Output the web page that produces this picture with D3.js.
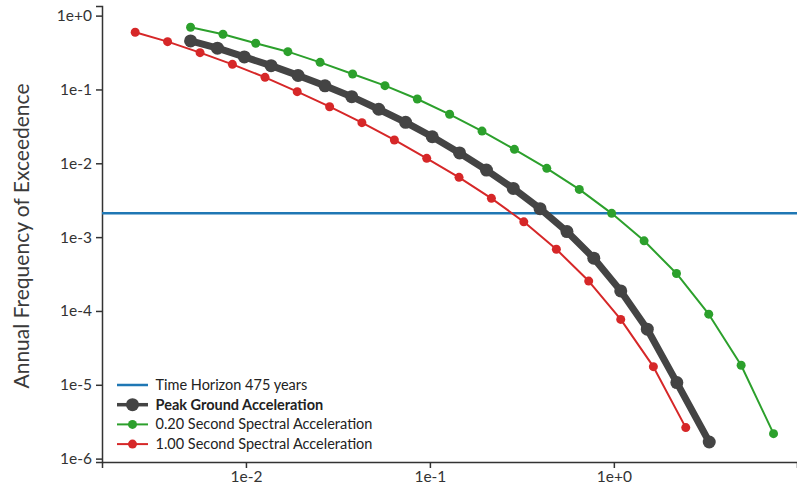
<!DOCTYPE html>
<html>
<head>
<meta charset="utf-8">
<script src="https://cdn.jsdelivr.net/npm/d3@7"></script>
<style>
  html, body { margin: 0; padding: 0; background: #fff; }
  svg { display: block; font-family: "Source Sans Pro", Lato, "Noto Sans", sans-serif; }
</style>
</head>
<body>
<svg id="chart" width="797" height="493"></svg>
<script>
// Ground-motion levels (g) for each spectral period
const pgaX = [0.005, 0.007, 0.0098, 0.0137, 0.0192, 0.0269, 0.0376, 0.0527, 0.0738, 0.103,
              0.145, 0.203, 0.284, 0.397, 0.556, 0.778, 1.09, 1.52, 2.2, 3.3];
const sa02X = [0.005, 0.0075, 0.0113, 0.0169, 0.0253, 0.038, 0.057, 0.0854, 0.128, 0.192,
               0.288, 0.432, 0.649, 0.973, 1.46, 2.19, 3.28, 4.92, 7.38];
const sa10X = [0.0025, 0.00375, 0.00563, 0.00844, 0.0127, 0.019, 0.0285, 0.0427, 0.0641, 0.0961,
               0.144, 0.216, 0.324, 0.487, 0.73, 1.09, 1.64, 2.46];

// Annual frequency of exceedance at each level
const pgaY = [0.454, 0.362, 0.276, 0.210, 0.155, 0.112, 0.0798, 0.0539, 0.0359, 0.0229,
              0.0138, 0.0081, 0.00457, 0.00243, 0.00119, 5.19e-4, 1.87e-4, 5.66e-5, 1.07e-5, 1.68e-6];
const sa02Y = [0.696, 0.560, 0.422, 0.325, 0.233, 0.162, 0.1125, 0.0743, 0.0461, 0.0273,
               0.01545, 0.00854, 0.00443, 0.0021, 8.91e-4, 3.22e-4, 9.04e-5, 1.84e-5, 2.18e-6];
const sa10Y = [0.596, 0.444, 0.315, 0.219, 0.146, 0.0933, 0.0584, 0.0355, 0.0207, 0.01167,
               0.00645, 0.00335, 0.00161, 6.84e-4, 2.54e-4, 7.69e-5, 1.76e-5, 2.63e-6];

const returnPeriod = 475;
const xTicks = [1e-2, 1e-1, 1e0];
const yTicks = [1e0, 1e-1, 1e-2, 1e-3, 1e-4, 1e-5, 1e-6];
const yTitle = "Annual Frequency of Exceedence";

const series = [
  { name: "Peak Ground Acceleration", xs: pgaX, ys: pgaY, color: "#444444", width: 7, r: 6.5, bold: true },
  { name: "0.20 Second Spectral Acceleration", xs: sa02X, ys: sa02Y, color: "#2ca02c", width: 2, r: 4.5, bold: false },
  { name: "1.00 Second Spectral Acceleration", xs: sa10X, ys: sa10Y, color: "#d62728", width: 2, r: 4.5, bold: false }
];

const svg = d3.select("#chart");
const plotLeft = 102, plotRight = 797, plotTop = 6, plotBottom = 462;

const x = d3.scaleLog().domain([0.00165, 9.9]).range([plotLeft, plotRight]);
const y = d3.scaleLog().domain([9e-7, 1.35]).range([plotBottom, plotTop]);

const fmt = d3.format(".0e");
const fontStack = "\"Source Sans Pro\", Lato, \"Noto Sans\", sans-serif";

// Axes
const gx = svg.append("g").attr("transform", `translate(0,${plotBottom})`)
  .call(d3.axisBottom(x).tickValues(xTicks).tickFormat(fmt).tickSizeOuter(0).tickSize(6).tickPadding(3));
const gy = svg.append("g").attr("transform", `translate(${plotLeft},0)`)
  .call(d3.axisLeft(y).tickValues(yTicks).tickFormat(fmt).tickSizeOuter(0).tickSize(6).tickPadding(4));
[gx, gy].forEach(g => {
  g.select(".domain").attr("stroke", "#333").attr("stroke-width", 1.5);
  g.selectAll(".tick line").attr("stroke", "#333").attr("stroke-width", 1.5);
  g.selectAll(".tick text").attr("fill", "#333").style("font-size", "15.5px")
    .style("font-family", fontStack);
});

svg.append("text")
  .attr("transform", `translate(29,${(plotTop + plotBottom) / 2 + 2}) rotate(-90)`)
  .attr("text-anchor", "middle")
  .attr("fill", "#3a3a3a")
  .style("font-size", "21px")
  .text(yTitle);

// Return-period reference line
svg.append("line")
  .attr("x1", plotLeft).attr("x2", plotRight)
  .attr("y1", y(1 / returnPeriod)).attr("y2", y(1 / returnPeriod))
  .attr("stroke", "#1f77b4").attr("stroke-width", 2.5);

// Hazard curves
const line = d3.line().x(d => x(d[0])).y(d => y(d[1]));
series.forEach(s => {
  const pts = s.xs.map((v, i) => [v, s.ys[i]]);
  const g = svg.append("g");
  g.append("path").datum(pts).attr("d", line)
    .attr("fill", "none").attr("stroke", s.color).attr("stroke-width", s.width)
    .attr("stroke-linejoin", "round");
  g.selectAll("circle").data(pts).join("circle")
    .attr("cx", d => x(d[0])).attr("cy", d => y(d[1])).attr("r", s.r)
    .attr("fill", s.color);
});

// Legend
const legend = svg.append("g").attr("transform", "translate(117,385)");
const items = [{ name: `Time Horizon ${returnPeriod} years`, color: "#1f77b4", width: 2.5, r: 0, bold: false }].concat(series);
items.forEach((it, i) => {
  const row = legend.append("g").attr("transform", `translate(0,${i * 19.7})`);
  row.append("line").attr("x1", 0).attr("x2", 31).attr("y1", 0).attr("y2", 0)
    .attr("stroke", it.color).attr("stroke-width", Math.min(it.width, 3.5));
  if (it.r > 0) row.append("circle").attr("cx", 15.5).attr("cy", 0).attr("r", it.r).attr("fill", it.color);
  row.append("text").attr("x", 38.5).attr("y", 5)
    .attr("fill", "#222").style("font-size", "14.5px")
    .style("font-weight", it.bold ? "bold" : "normal")
    .text(it.name);
});
</script>
</body>
</html>
